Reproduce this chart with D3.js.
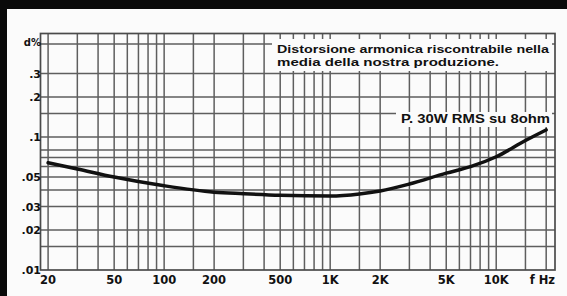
<!DOCTYPE html>
<html><head><meta charset="utf-8">
<script src="https://cdn.jsdelivr.net/npm/d3@7"></script>
<style>
html,body{margin:0;padding:0;background:#fff;}
svg{display:block;}
text{font-family:"Liberation Sans",Arial,sans-serif;font-weight:bold;fill:#111;}
text.ax{font-family:"DejaVu Sans",sans-serif;}
</style></head>
<body><svg id="c" width="567" height="296"></svg>
<script>
// ---- data ----
const freqs = [20, 30, 50, 100, 200, 300, 500, 1000, 1500, 2000, 3000, 5000, 7000, 10000, 15000, 20000];
const distortion = [0.064, 0.0575, 0.050, 0.043, 0.0385, 0.0375, 0.0365, 0.036, 0.0373, 0.0393, 0.0443, 0.0535, 0.0598, 0.071, 0.094, 0.113];
const xTickValues = [20, 50, 100, 200, 500, 1000, 2000, 5000, 10000];
const xTickLabels = ["20", "50", "100", "200", "500", "1K", "2K", "5K", "10K"];
const yTickValues = [0.01, 0.02, 0.03, 0.05, 0.1, 0.2, 0.3];
const yTickLabels = [".01", ".02", ".03", ".05", ".1", ".2", ".3"];
const xGridValues = [20,30,40,50,60,70,80,90,100,150,200,300,400,500,600,700,800,900,1000,1500,2000,3000,4000,5000,6000,7000,8000,9000,10000,15000,20000];
const yGridValues = [0.015,0.02,0.03,0.04,0.05,0.06,0.07,0.08,0.1,0.15,0.2,0.3,0.5];
const freqDomain = [18, 22600];
const distDomain = [0.01, 0.6];
const titleLines = ["Distorsione armonica riscontrabile nella", "media della nostra produzione."];
const noteText = "P. 30W RMS su 8ohm";
const yUnit = "d%";
const xUnit = "f Hz";

// ---- drawing ----
const svg = d3.select("#c");
svg.append("rect").attr("width",567).attr("height",296).attr("fill","#fbfbfb");
svg.append("rect").attr("x",0).attr("y",0).attr("width",567).attr("height",9).attr("fill","#0a0a0a");
svg.append("rect").attr("x",0).attr("y",0).attr("width",7).attr("height",296).attr("fill","#0a0a0a");

const x = d3.scaleLog().domain(freqDomain).range([40.5, 555]);
const y = d3.scaleLog().domain(distDomain).range([270, 33.5]);

const g = svg.append("g");
g.selectAll("line.vx").data(xGridValues).join("line")
  .attr("x1",d=>x(d)).attr("x2",d=>x(d)).attr("y1",y(distDomain[1])).attr("y2",y(distDomain[0]))
  .attr("stroke","#5e5e5e").attr("stroke-width",1.5);
g.selectAll("line.hy").data(yGridValues).join("line")
  .attr("y1",d=>y(d)).attr("y2",d=>y(d)).attr("x1",x(freqDomain[0])).attr("x2",x(freqDomain[1]))
  .attr("stroke","#5e5e5e").attr("stroke-width",1.5);
g.append("rect").attr("x",x(freqDomain[0])).attr("y",y(distDomain[1]))
  .attr("width",x(freqDomain[1])-x(freqDomain[0])).attr("height",y(distDomain[0])-y(distDomain[1]))
  .attr("fill","none").attr("stroke","#4a4a4a").attr("stroke-width",1.7);

g.append("rect").attr("x",272).attr("y",39).attr("width",280).attr("height",32).attr("fill","#fbfbfb");
g.append("rect").attr("x",396).attr("y",112).attr("width",156).attr("height",15).attr("fill","#fbfbfb");

const line = d3.line().x((d,i)=>x(freqs[i])).y(d=>y(d)).curve(d3.curveMonotoneX);
g.append("path").datum(distortion).attr("d",line)
  .attr("fill","none").attr("stroke","#111").attr("stroke-width",3.5).attr("stroke-linecap","round");

g.append("text").attr("x",277).attr("y",53).attr("font-size",11.5).attr("textLength",272).attr("lengthAdjust","spacingAndGlyphs").text(titleLines[0]);
g.append("text").attr("x",277).attr("y",66).attr("font-size",11.5).attr("textLength",222).attr("lengthAdjust","spacingAndGlyphs").text(titleLines[1]);
g.append("text").attr("x",401).attr("y",123).attr("font-size",12).attr("textLength",149).attr("lengthAdjust","spacingAndGlyphs").text(noteText);

g.selectAll("text.xl").data(xTickValues).join("text").attr("class","ax")
  .attr("x",d=>x(d)).attr("y",284).attr("text-anchor","middle").attr("font-size",11.5)
  .text((d,i)=>xTickLabels[i]);
g.append("text").attr("class","ax").attr("x",555).attr("y",284).attr("text-anchor","end").attr("font-size",11.5).text(xUnit);
g.selectAll("text.yl").data(yTickValues).join("text").attr("class","ax")
  .attr("x",41).attr("y",d=>y(d)+4).attr("text-anchor","end").attr("font-size",11)
  .text((d,i)=>yTickLabels[i]);
g.append("text").attr("class","ax").attr("x",41).attr("y",y(0.5)+2).attr("text-anchor","end").attr("font-size",10).text(yUnit);
</script></body></html>
